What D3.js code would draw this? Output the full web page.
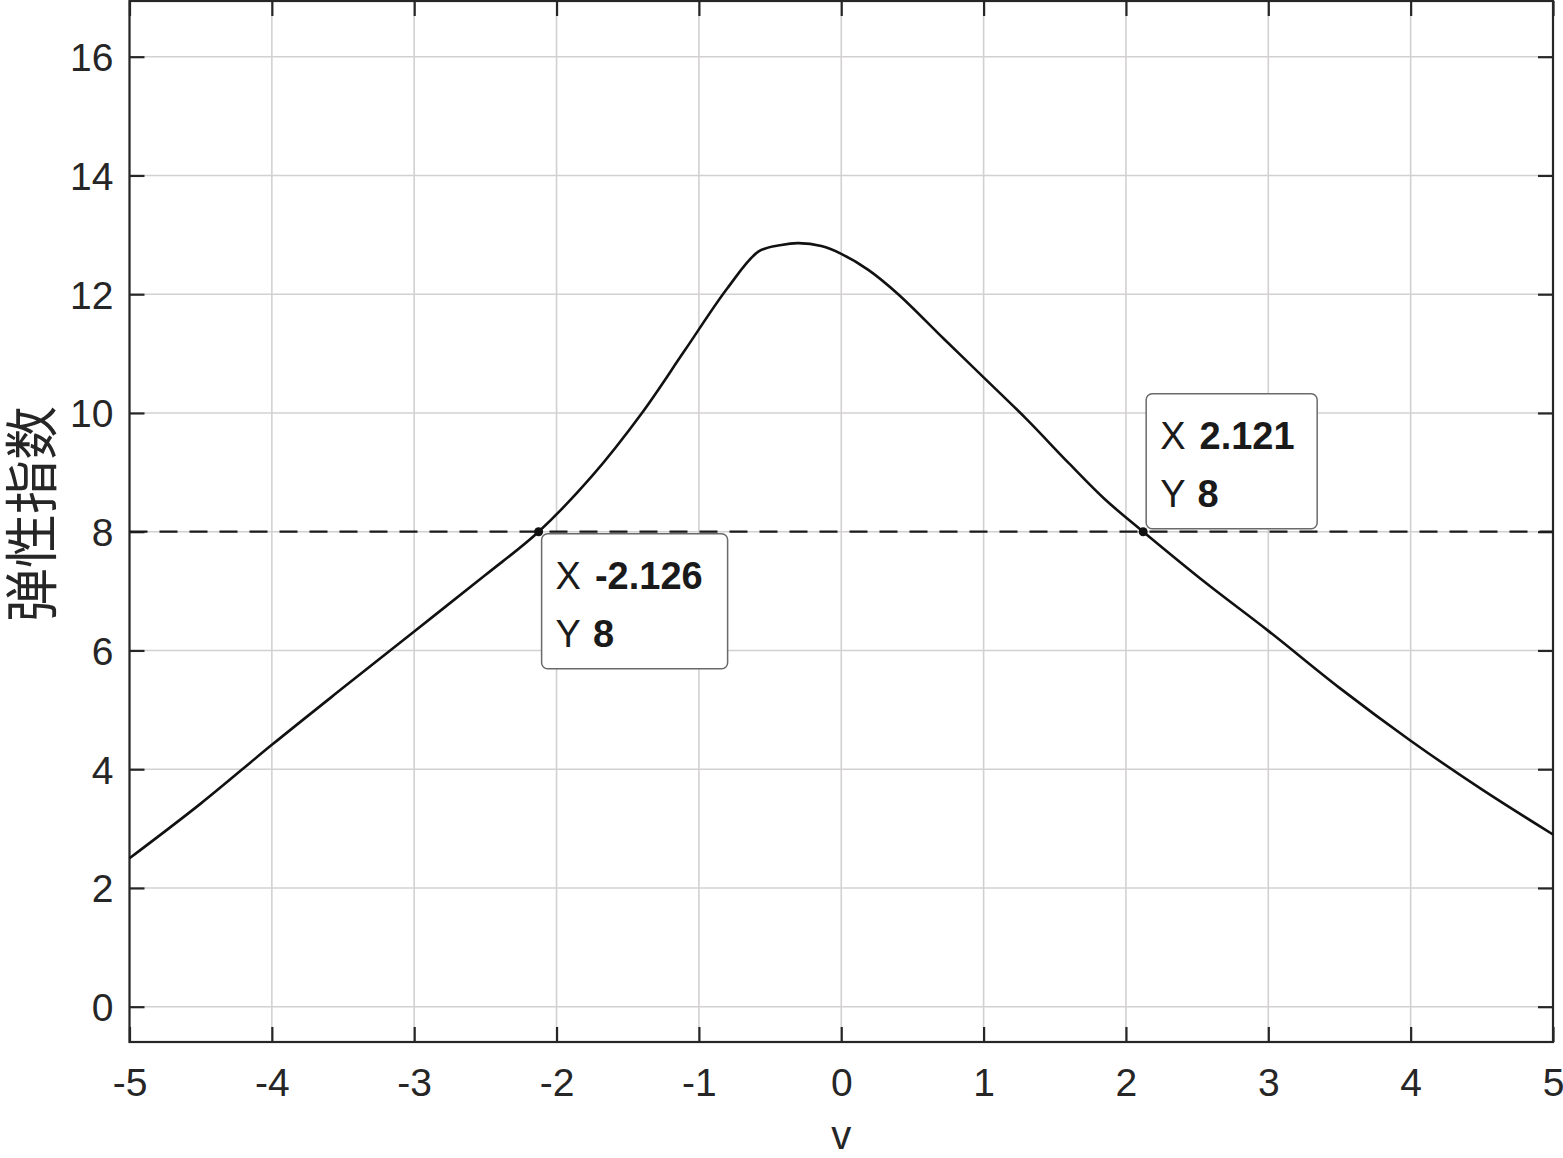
<!DOCTYPE html>
<html>
<head>
<meta charset="utf-8">
<script src="https://cdn.jsdelivr.net/npm/d3@7"></script>
<style>
html,body{margin:0;padding:0;background:#fff;}
svg{display:block;}
</style>
</head>
<body>
<script>
// ---- data ----
const vVals = [-5, -4.5, -4, -3.5, -3, -2.5, -2.126, -1.75, -1.4, -1.1, -0.8, -0.58, -0.42, -0.30, -0.14, 0.0, 0.19, 0.40, 0.72, 1.0, 1.3, 1.6, 1.85, 2.121, 2.56, 3.0, 3.5, 4.0, 4.5, 5.0];
const elastVals = [2.50, 3.42, 4.41, 5.37, 6.32, 7.27, 8.0, 8.94, 10.0, 11.05, 12.1, 12.72, 12.83, 12.86, 12.81, 12.68, 12.41, 12.0, 11.25, 10.6, 9.9, 9.15, 8.55, 8.0, 7.14, 6.33, 5.37, 4.48, 3.66, 2.90];
const xTicks = [-5, -4, -3, -2, -1, 0, 1, 2, 3, 4, 5];
const yTicks = [0, 2, 4, 6, 8, 10, 12, 14, 16];
const refLevel = 8;
const tipX = [-2.126, 2.121];
const tipY = [8, 8];
const tipXLabels = ["-2.126", "2.121"];
const tipYLabels = ["8", "8"];
const xLabel = "v";
const yLabel = "弹性指数";

// ---- layout ----
const W = 1563, H = 1158;
const L = 129.5, R = 1553, T = 1, B = 1042;
const x = d3.scaleLinear().domain([-5, 5]).range([L, R]);
const y = d3.scaleLinear().domain([0, 16]).range([1006.7, 56.7]);

const svg = d3.select("body").append("svg").attr("width", W).attr("height", H);
const font = "'Liberation Sans', Arial, sans-serif";

// grid
const g = svg.append("g");
g.selectAll(".gx").data(xTicks).enter().append("line")
  .attr("x1", d => x(d)).attr("x2", d => x(d)).attr("y1", T).attr("y2", B)
  .attr("stroke", "#d3d0d0").attr("stroke-width", 1.6);
g.selectAll(".gy").data(yTicks).enter().append("line")
  .attr("x1", L).attr("x2", R).attr("y1", d => y(d)).attr("y2", d => y(d))
  .attr("stroke", "#d3d0d0").attr("stroke-width", 1.6);

// axes with inward ticks
const tl = 15;
const axB = d3.axisBottom(x).tickValues(xTicks).tickSize(-tl).tickPadding(26).tickFormat(d3.format("d"));
const axT = d3.axisTop(x).tickValues(xTicks).tickSize(-tl).tickFormat("");
const axL = d3.axisLeft(y).tickValues(yTicks).tickSize(-tl).tickPadding(16).tickFormat(d3.format("d"));
const axR = d3.axisRight(y).tickValues(yTicks).tickSize(-tl).tickFormat("");

function style(sel) {
  sel.select(".domain").remove();
  sel.selectAll(".tick line").attr("stroke", "#262626").attr("stroke-width", 2.2);
  sel.selectAll(".tick text").attr("fill", "#262626").style("font-family", font).style("font-size", "39px");
}
svg.append("g").attr("transform", `translate(0,${B})`).call(axB).call(style)
  .selectAll(".tick text").attr("dy", "0.71em").text(d => d < 0 ? "-" + Math.abs(d) : d);
svg.append("g").attr("transform", `translate(0,${T})`).call(axT).call(style);
svg.append("g").attr("transform", `translate(${L},0)`).call(axL).call(style)
  .selectAll(".tick text").attr("dy", "0.36em");
svg.append("g").attr("transform", `translate(${R},0)`).call(axR).call(style);

// box
svg.append("rect").attr("x", L).attr("y", T).attr("width", R - L).attr("height", B - T)
  .attr("fill", "none").attr("stroke", "#262626").attr("stroke-width", 2.2);

// reference dashed line
svg.append("line").attr("x1", L).attr("x2", R).attr("y1", y(refLevel)).attr("y2", y(refLevel))
  .attr("stroke", "#1a1a1a").attr("stroke-width", 2.2).attr("stroke-dasharray", "18,12");

// curve
const pts = vVals.map((v, i) => [v, elastVals[i]]);
const line = d3.line().x(d => x(d[0])).y(d => y(d[1])).curve(d3.curveCatmullRom.alpha(0.5));
svg.append("path").datum(pts).attr("d", line).attr("fill", "none")
  .attr("stroke", "#111").attr("stroke-width", 2.6).attr("stroke-linejoin", "round");

// markers
svg.selectAll(".mk").data(tipX).enter().append("circle")
  .attr("cx", d => x(d)).attr("cy", (d, i) => y(tipY[i])).attr("r", 4.5).attr("fill", "#111");

// datatips
const tipBoxes = [
  {dx: 3, dy: 2, w: 186, h: 135},
  {dx: 3, dy: -138, w: 171, h: 135}
];
tipX.forEach((tx, i) => {
  const px = x(tx), py = y(tipY[i]);
  const b = tipBoxes[i];
  const bx = px + b.dx, by = py + b.dy;
  const tg = svg.append("g");
  tg.append("rect").attr("x", bx).attr("y", by).attr("width", b.w).attr("height", b.h)
    .attr("rx", 6).attr("ry", 6).attr("fill", "#fff").attr("stroke", "#6a6a6a").attr("stroke-width", 1.5);
  const t1 = tg.append("text").attr("x", bx + 14).attr("y", by + 55)
    .style("font-family", font).style("font-size", "38px").attr("fill", "#1a1a1a");
  t1.append("tspan").text("X");
  t1.append("tspan").attr("dx", 14).attr("font-weight", "bold").text(tipXLabels[i]);
  const t2 = tg.append("text").attr("x", bx + 14).attr("y", by + 113)
    .style("font-family", font).style("font-size", "38px").attr("fill", "#1a1a1a");
  t2.append("tspan").text("Y");
  t2.append("tspan").attr("dx", 12).attr("font-weight", "bold").text(tipYLabels[i]);
});

// axis labels
svg.append("text").attr("x", (L + R) / 2).attr("y", 1149).attr("text-anchor", "middle")
  .style("font-family", font).style("font-size", "40px").attr("fill", "#262626").text(xLabel);
svg.append("text").attr("transform", `translate(52,514) rotate(-90)`).attr("text-anchor", "middle")
  .style("font-family", "'Noto Sans CJK SC', sans-serif").style("font-size", "54px").attr("fill", "#262626").text(yLabel);
</script>
</body>
</html>
